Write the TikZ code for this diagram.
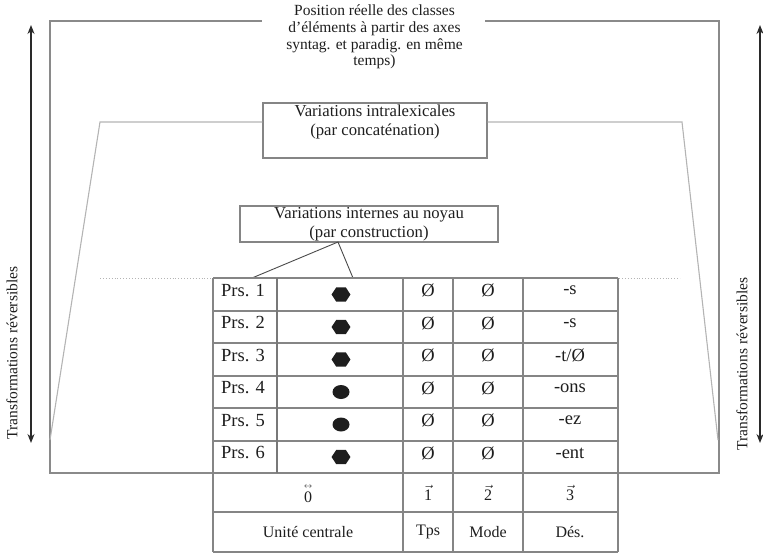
\documentclass[tikz,border=0pt]{standalone}
\usepackage{fontspec}
\usepackage{amsmath}
\setmainfont{Liberation Serif}
\usetikzlibrary{arrows.meta,shapes.geometric,calc}

\definecolor{ink}{HTML}{1E1E1E}
\definecolor{framegrey}{HTML}{8A8A8A}
\definecolor{lightgrey}{HTML}{B4B4B4}
\definecolor{gridgrey}{HTML}{858585}
\definecolor{arrowgrey}{HTML}{2A2A2A}

\newcommand{\vecnum}[1]{\ensuremath{\vec{\mbox{#1}}}}
\newcommand{\bivecnum}[1]{\ensuremath{\overset{\scriptscriptstyle\leftrightarrow}{\mbox{#1}}}}

\begin{document}
\begin{tikzpicture}[x=1pt,y=-1pt,
  frame/.style={draw=framegrey, line width=1.1pt},
  trap/.style={draw=lightgrey, line width=1.1pt},
  gridline/.style={draw=gridgrey, line width=1.1pt},
  boxst/.style={draw=gridgrey, line width=1.1pt, inner sep=0pt},
  toptxt/.style={font=\fontsize{15.5}{16.7}\selectfont, align=center, inner sep=0pt, text=ink},
  lbl/.style={font=\fontsize{16.7}{18.5}\selectfont, align=center, inner sep=0pt, text=ink},
  tcell/.style={font=\fontsize{18.5}{20}\selectfont, inner sep=0pt, text=ink},
  foot/.style={font=\fontsize{16}{18}\selectfont, inner sep=0pt, text=ink},
  side/.style={font=\fontsize{15.5}{17}\selectfont, rotate=90, inner sep=0pt, text=ink},
  revarrow/.style={draw=arrowgrey, line width=1.4pt,
    {Stealth[length=9pt,width=7pt]}-{Stealth[length=9pt,width=7pt]}},
  hexdot/.style={regular polygon, regular polygon sides=6, fill=ink,
    minimum size=16.5pt, inner sep=0pt, xscale=1.15, transform shape},
  ovaldot/.style={ellipse, fill=ink, minimum width=17pt, minimum height=14pt, inner sep=0pt}
]
\useasboundingbox (0,0) rectangle (763,554);

% ---- heading of the outer frame
\node[toptxt] (top) at (374.5,37) {Position réelle des classes\\d'éléments à partir des axes\\syntag. et paradig. en même\\temps)};

% ---- reversible transformation arrows and their captions
\coordinate (lA1) at (31,25);  \coordinate (lA2) at (31,443);
\coordinate (rA1) at (760,25); \coordinate (rA2) at (760,443);
\draw[revarrow] (lA1) -- (lA2);
\draw[revarrow] (rA1) -- (rA2);
\node[side] (lside) at (12,353) {Transformations réversibles};
\node[side] (rside) at (742,364) {Transformations réversibles};

% ---- boxes
\node[boxst, minimum width=224pt, minimum height=55pt] (ibox) at (375,130.5) {};
\node[lbl] (itext) at (375,122) {Variations intralexicales\\(par concaténation)};
\node[boxst, lbl, minimum width=258pt, minimum height=36pt] (nbox) at (369,224) {Variations internes au noyau\\(par construction)};

% ---- table corners
\coordinate (tabTL) at (213,278);
\coordinate (tabBL) at (213,473);
\coordinate (tabBR) at (618,473);

% ---- outer frame
\coordinate (oTL) at (50,21);  \coordinate (oBL) at (50,473);
\coordinate (oTR) at (719,21); \coordinate (oBR) at (719,473);
\coordinate (gapL) at (262,21); \coordinate (gapR) at (485,21);
\draw[frame] (tabBL) -- (oBL) -- (oTL) -- (gapL);
\draw[frame] (gapR) -- (oTR) -- (oBR) -- (tabBR);

% ---- trapezoid around the concatenation level
\coordinate (tTL) at (100,122); \coordinate (tBL) at (50,440);
\coordinate (tTR) at (682,122); \coordinate (tBR) at (718,440);
\draw[trap] (tBL) -- (tTL) -- (ibox.west |- tTL);
\draw[trap] (ibox.east |- tTR) -- (tTR) -- (tBR);

% ---- dotted level line
\coordinate (dL) at (100,278.5); \coordinate (dR) at (680,278.5);
\draw[draw=lightgrey, line width=0.9pt, dotted] (dL) -- (dR);

% ---- callout from the core box
\coordinate (cO) at (338,242);
\coordinate (cA) at (252,278);
\coordinate (cB) at (353,278);
\draw[draw=ink!80, line width=0.9pt] (cA) -- (cO) -- (cB);

% ---- table grid
\foreach \y in {278,311,343,376,408,441,473,512,552}
  \draw[gridline] (213,\y) -- (618,\y);
\foreach \x in {213,403,453,523,618}
  \draw[gridline] (\x,278) -- (\x,552);
\draw[draw=gridgrey!90!black, line width=2pt] (277,278) -- (277,473);

% ---- table rows
\foreach \i/\c/\suf in {1/294.5/{-s}, 2/327/{-s}, 3/359.5/{-t/Ø}, 4/392/{-ons}, 5/424.5/{-ez}, 6/457/{-ent}}{
  \node[tcell] (prs\i) at (243,\c-4) {Prs. \i};
  \node[tcell] (tps\i) at (428,\c-4) {Ø};
  \node[tcell] (mod\i) at (488,\c-4) {Ø};
  \node[tcell] (des\i) at (570,\c-4) {\suf};
}
\node[hexdot] (u1) at (341,294.5) {};
\node[hexdot] (u2) at (341,327) {};
\node[hexdot] (u3) at (341,359.5) {};
\node[ovaldot] (u4) at (341,392) {};
\node[ovaldot] (u5) at (341,424.5) {};
\node[hexdot] (u6) at (341,457) {};

% ---- axis positions and their names
\node[foot] (p0) at (308,493) {\bivecnum{0}};
\node[foot] (p1) at (428,493) {\vecnum{1}};
\node[foot] (p2) at (488,493) {\vecnum{2}};
\node[foot] (p3) at (570,493) {\vecnum{3}};
\node[foot] (n0) at (308,532) {Unité centrale};
\node[foot] (n1) at (428,532) {Tps};
\node[foot] (n2) at (488,532) {Mode};
\node[foot] (n3) at (570,532) {Dés.};
\end{tikzpicture}
\end{document}
